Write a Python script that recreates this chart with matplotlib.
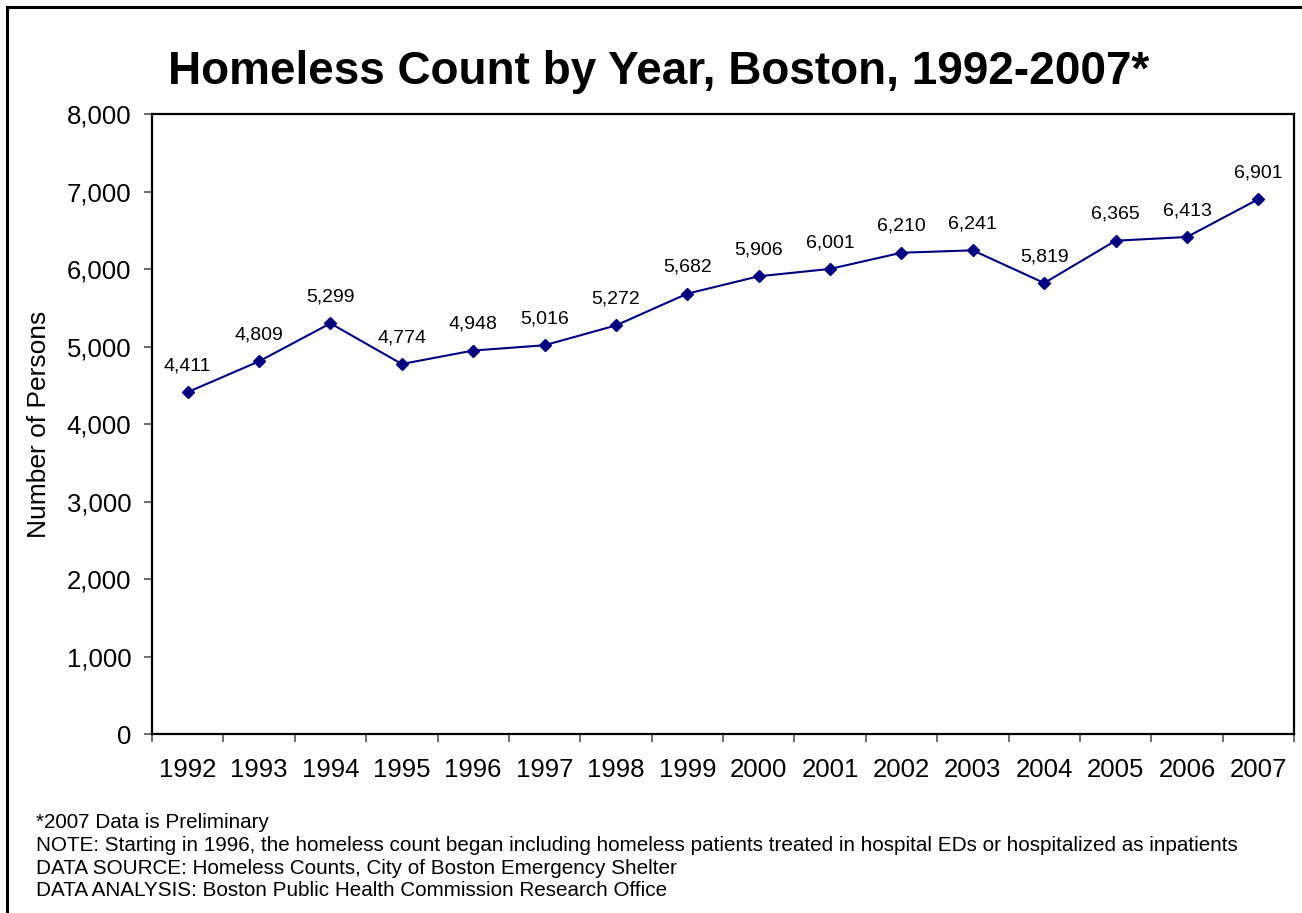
import matplotlib
matplotlib.use("Agg")
import matplotlib.pyplot as plt
from matplotlib.patches import Rectangle
from matplotlib.ticker import FuncFormatter

plt.rcParams["font.family"] = ["Liberation Sans", "DejaVu Sans"]

years = [str(y) for y in range(1992, 2008)]
counts = [4411, 4809, 5299, 4774, 4948, 5016, 5272, 5682,
          5906, 6001, 6210, 6241, 5819, 6365, 6413, 6901]

title = "Homeless Count by Year, Boston, 1992-2007*"
notes = [
    "*2007 Data is Preliminary",
    "NOTE: Starting in 1996, the homeless count began including homeless patients treated in hospital EDs or hospitalized as inpatients",
    "DATA SOURCE: Homeless Counts, City of Boston Emergency Shelter",
    "DATA ANALYSIS: Boston Public Health Commission Research Office",
]

W, H = 1302, 913
fig = plt.figure(figsize=(W / 100, H / 100), dpi=100)
ax = fig.add_axes([152 / W, 1 - 734 / H, (1294 - 152) / W, (734 - 114) / H])

x = list(range(len(years)))
ax.plot(x, counts, color="#000080", lw=1.5, marker="D", ms=6,
        markerfacecolor="#000080", markeredgecolor="#000080")

for xi, v in zip(x, counts):
    ax.annotate(f"{v:,}", (xi, v), xytext=(0, 19), textcoords="offset points",
                ha="center", va="center", fontsize=14)

ax.set_xlim(-0.5, len(years) - 0.5)
ax.set_ylim(0, 8000)
ax.set_yticks(range(0, 8001, 1000))
ax.yaxis.set_major_formatter(FuncFormatter(lambda v, p: f"{int(v):,}"))

# category boundaries get the tick marks, labels sit between them
ax.set_xticks([i - 0.5 for i in range(len(years) + 1)])
ax.set_xticklabels([])
ax.set_xticks(x, minor=True)
ax.set_xticklabels(years, minor=True)
ax.tick_params(axis="x", which="major", direction="out", length=6, width=1.2, color="#555555")
ax.tick_params(axis="x", which="minor", length=0, pad=17, labelsize=18.5)
ax.tick_params(axis="y", direction="out", length=6, width=1.2, color="#555555",
               pad=9, labelsize=18.5)

for s in ax.spines.values():
    s.set_linewidth(1.6)
    s.set_color("black")

ax.set_ylabel("Number of Persons", fontsize=19)
ax.yaxis.set_label_coords((51 - 152) / (1294 - 152), 0.5)

fig.text(659 / W, 1 - 72 / H, title, ha="center", va="center",
         fontsize=33, fontweight="bold")

for i, line in enumerate(notes):
    fig.text(36 / W, 1 - (823 + 22.5 * i) / H, line, ha="left", va="center",
             fontsize=14.9)

# outer frame around the chart area
fig.patches.append(Rectangle((7 / W, -0.05), 1.2, 1.05 - 7 / H,
                             transform=fig.transFigure, fill=False,
                             edgecolor="black", lw=2.2))

fig.savefig("out.png", dpi=100)
